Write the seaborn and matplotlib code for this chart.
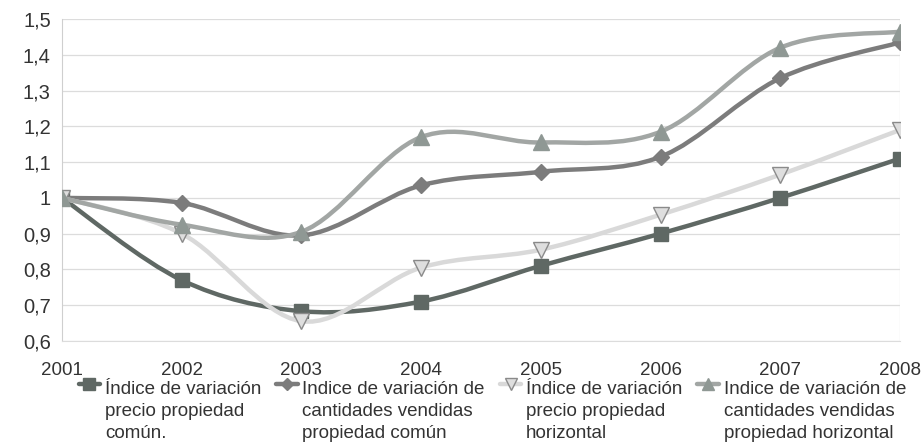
import matplotlib
matplotlib.use('Agg')
import matplotlib.pyplot as plt
import numpy as np
import pandas as pd
import seaborn as sns
from matplotlib.path import Path
from matplotlib.patches import PathPatch
from matplotlib.lines import Line2D
from matplotlib.legend_handler import HandlerLine2D
from matplotlib.ticker import FuncFormatter, MultipleLocator

# data
years = [2001, 2002, 2003, 2004, 2005, 2006, 2007, 2008]
precio_comun = [1.0, 0.77, 0.683, 0.71, 0.81, 0.90, 1.0, 1.11]
cantidades_comun = [1.0, 0.986, 0.895, 1.035, 1.073, 1.115, 1.335, 1.435]
precio_horizontal = [1.0, 0.90, 0.655, 0.805, 0.855, 0.953, 1.065, 1.19]
cantidades_horizontal = [1.0, 0.925, 0.905, 1.17, 1.155, 1.185, 1.42, 1.465]

labels = [
    'Índice de variación\nprecio propiedad\ncomún.',
    'Indice de variación de\ncantidades vendidas\npropiedad común',
    'Índice de variación\nprecio propiedad\nhorizontal',
    'Indice de variación de\ncantidades vendidas\npropiedad horizontal',
]

sns.set_style('white')
plt.rcParams['font.family'] = ['Liberation Sans', 'DejaVu Sans']

df = pd.DataFrame({'Year': years,
                   labels[0]: precio_comun,
                   labels[1]: cantidades_comun,
                   labels[2]: precio_horizontal,
                   labels[3]: cantidades_horizontal})
df_long = df.melt(id_vars='Year', var_name='Serie', value_name='Indice')

# style per series: line colour, marker, marker face, marker edge, marker size
styles = {
    labels[0]: ('#5f6864', 's', '#5f6864', '#5f6864', 10.5),
    labels[1]: ('#7c7c7c', 'D', '#7c7c7c', '#7c7c7c', 8),
    labels[2]: ('#d9d9d9', 'v', '#dedede', '#8a8a8a', 11),
    labels[3]: ('#a2a6a4', '^', '#8f9894', '#8f9894', 11),
}


def smooth_path(x, y):
    # excel-like smoothed line through the points (catmull-rom as bezier)
    x = np.asarray(x, float)
    y = np.asarray(y, float)
    px = np.concatenate([[x[0]], x, [x[-1]]])
    py = np.concatenate([[y[0]], y, [y[-1]]])
    verts = [(x[0], y[0])]
    codes = [Path.MOVETO]
    for i in range(1, len(px) - 2):
        c1 = (px[i] + (px[i + 1] - px[i - 1]) / 6, py[i] + (py[i + 1] - py[i - 1]) / 6)
        c2 = (px[i + 1] - (px[i + 2] - px[i]) / 6, py[i + 1] - (py[i + 2] - py[i]) / 6)
        verts += [c1, c2, (px[i + 1], py[i + 1])]
        codes += [Path.CURVE4] * 3
    return Path(verts, codes)


fig, ax = plt.subplots(figsize=(9.24, 4.45), dpi=100)
fig.subplots_adjust(left=0.067, right=0.974, bottom=0.234, top=0.957)

for k, lab in enumerate(labels):
    color, mk, fc, ec, ms = styles[lab]
    sub = df_long[df_long['Serie'] == lab]
    ax.add_patch(PathPatch(smooth_path(sub['Year'], sub['Indice']), facecolor='none',
                           edgecolor=color, lw=3.2, zorder=2 + k, capstyle='round'))
    sns.lineplot(data=sub, x='Year', y='Indice', ax=ax, linestyle='', marker=mk,
                 markersize=ms, markerfacecolor=fc, markeredgecolor=ec,
                 markeredgewidth=1, color=color, zorder=2.5 + k, legend=False)

ax.set_xlim(2001, 2008)
ax.set_ylim(0.6, 1.5)
ax.set_xticks(years)
ax.yaxis.set_major_locator(MultipleLocator(0.1))
ax.yaxis.set_major_formatter(FuncFormatter(lambda v, p: f'{v:.1f}'.replace('.', ',').replace(',0', '')))
ax.set_xlabel('')
ax.set_ylabel('')
ax.grid(axis='y', color='#dcdcdc', lw=0.9)
for s in ['top', 'right']:
    ax.spines[s].set_visible(False)
ax.spines['left'].set_color('#cfcfcf')
ax.spines['bottom'].set_color('#dcdcdc')
ax.tick_params(axis='x', length=6, color='#cfcfcf', labelsize=13.5, labelcolor='#333333', pad=9)
ax.tick_params(axis='y', length=4, color='#cfcfcf', labelsize=14.5, labelcolor='#333333', pad=4)
ax.axvline(2008, color='#e6e6e6', lw=0.9, zorder=1)


class TopHandler(HandlerLine2D):
    # put the legend marker next to the first text line
    def create_artists(self, legend, orig_handle, xdescent, ydescent, width, height, fontsize, trans):
        arts = super().create_artists(legend, orig_handle, xdescent, ydescent, width, height, fontsize, trans)
        for a in arts:
            a.set_ydata(np.asarray(a.get_ydata(), float) + 1.45 * fontsize)
        return arts


handles = []
for lab in labels:
    color, mk, fc, ec, ms = styles[lab]
    handles.append(Line2D([], [], color=color, lw=3.2, marker=mk, markersize=ms * 0.8,
                          markerfacecolor=fc, markeredgecolor=ec))
leg = fig.legend(handles, labels, loc='upper left', bbox_to_anchor=(0.085, 1 - 381 / 445),
                 ncol=4, frameon=False, fontsize=13.5, handlelength=1.15, handletextpad=0.25,
                 columnspacing=0.8, borderpad=0, borderaxespad=0,
                 handler_map={Line2D: TopHandler(numpoints=1)})
for t in leg.get_texts():
    t.set_color('#333333')
    t.set_linespacing(1.4)

plt.savefig('out.png', dpi=100)
plt.close()
